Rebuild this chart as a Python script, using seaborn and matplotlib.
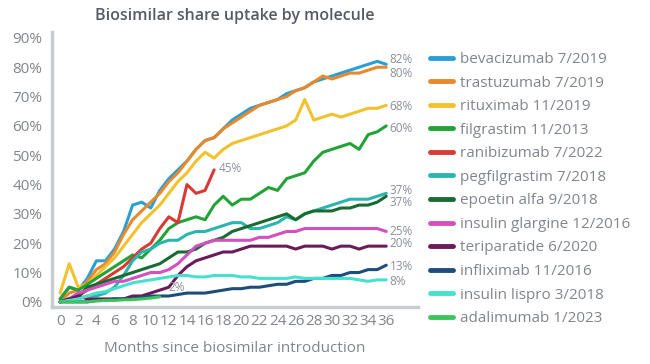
import matplotlib
matplotlib.use('Agg')
import pandas as pd
import matplotlib.pyplot as plt
import seaborn as sns

# Biosimilar share (%) by months since introduction
molecules = ['bevacizumab 7/2019', 'trastuzumab 7/2019', 'rituximab 11/2019',
             'filgrastim 11/2013', 'ranibizumab 7/2022', 'pegfilgrastim 7/2018',
             'epoetin alfa 9/2018', 'insulin glargine 12/2016', 'teriparatide 6/2020',
             'infliximab 11/2016', 'insulin lispro 3/2018', 'adalimumab 1/2023']
colors = ['#2a9fd6', '#e8892b', '#f2c12e', '#22a336', '#d93a35', '#2bb5b0',
          '#1a6b32', '#d44fc0', '#6b1b5a', '#1d4e7a', '#47e0cf', '#3cc45a']

bevacizumab = [1, 5, 4, 8, 14, 14, 18, 24, 33, 34, 32, 38, 42, 45, 48, 52, 55, 56, 59,
               62, 64, 66, 67, 68, 69, 71, 72, 73, 75, 76, 77, 78, 79, 80, 81, 82, 81]
trastuzumab = [0, 3, 4, 7, 11, 13, 17, 23, 28, 31, 34, 37, 41, 44, 48, 52, 55, 56, 59,
               61, 63, 65, 67, 68, 69, 70, 72, 73, 75, 77, 76, 77, 78, 78, 79, 80, 80]
rituximab = [3, 13, 5, 6, 9, 12, 15, 19, 23, 27, 30, 33, 37, 41, 44, 48, 51, 49, 52,
             54, 55, 56, 57, 58, 59, 60, 62, 69, 62, 63, 64, 63, 64, 65, 66, 66, 67]
filgrastim = [1, 5, 4, 6, 8, 10, 12, 14, 16, 15, 18, 21, 25, 27, 28, 29, 28, 33, 36,
              33, 35, 35, 37, 39, 38, 42, 43, 44, 48, 51, 52, 53, 54, 52, 57, 58, 60]
ranibizumab = [0, 1, 2, 4, 6, 8, 10, 12, 15, 18, 20, 25, 29, 27, 40, 37, 38, 45]
pegfilgrastim = [0, 1, 1, 2, 2, 3, 5, 9, 14, 17, 18, 20, 21, 21, 23, 24, 24, 25, 26,
                 27, 27, 25, 25, 26, 27, 29, 28, 30, 31, 32, 33, 34, 35, 35, 35, 36, 37]
epoetin_alfa = [0, 1, 2, 5, 6, 7, 8, 9, 10, 11, 12, 13, 15, 17, 17, 18, 20, 21, 22,
                24, 25, 26, 27, 28, 29, 30, 28, 30, 31, 31, 31, 32, 32, 33, 33, 34, 36]
insulin_glargine = [0, 1, 3, 4, 5, 6, 7, 7, 8, 9, 10, 10, 11, 13, 16, 19, 20, 21, 21,
                    21, 21, 21, 22, 22, 23, 24, 24, 25, 25, 25, 25, 25, 25, 25, 25, 25, 24]
teriparatide = [0, 1, 2, 1, 1, 1, 1, 1, 2, 2, 3, 4, 5, 9, 12, 14, 15, 16, 17,
                17, 18, 19, 19, 19, 19, 19, 18, 19, 19, 19, 18, 19, 19, 18, 19, 19, 19]
infliximab = [0, 0, 0, 0, 0.5, 0.5, 1, 1, 1, 1.5, 2, 2, 2, 2.5, 3, 3, 3, 3.5, 4,
              4.5, 4.5, 5, 5, 5.5, 6, 6, 7, 7, 8, 8, 9, 9, 10, 10, 11, 11, 12.5]
insulin_lispro = [0, 0.5, 1, 2, 3, 3.5, 4.5, 5.5, 6.5, 7, 7.5, 8, 8.5, 9, 9, 8.5, 8.5, 9, 9,
                  9, 8.5, 8.5, 8, 8, 8, 8, 8.5, 8, 8, 8, 8, 8, 8, 7.5, 7, 7.5, 7.5]
adalimumab = [0, 0, 0, 0, 0.3, 0.5, 0.5, 0.7, 0.8, 1, 1.3, 1.7]

end_labels = ['82%', '80%', '68%', '60%', '45%', '37%', '37%', '25%', '20%', '13%', '8%', '2%']
month_ticks = list(range(0, 37, 2))
pct_ticks = list(range(0, 91, 10))

series = [bevacizumab, trastuzumab, rituximab, filgrastim, ranibizumab, pegfilgrastim,
          epoetin_alfa, insulin_glargine, teriparatide, infliximab, insulin_lispro, adalimumab]

rows = []
for name, vals in zip(molecules, series):
    for m, v in enumerate(vals):
        rows.append({'month': m, 'share': v, 'molecule': name})
df = pd.DataFrame(rows)

sns.set_style('white')
plt.rcParams['font.family'] = ['Open Sans', 'DejaVu Sans']

fig = plt.figure(figsize=(6.5, 3.64), dpi=100)
ax = fig.add_axes([0.08, 0.157, 0.563, 0.755])

sns.lineplot(data=df, x='month', y='share', hue='molecule', hue_order=molecules,
             palette=dict(zip(molecules, colors)), linewidth=2.2, ax=ax, legend=True)
for line in ax.get_lines():
    line.set_solid_joinstyle('round')
    line.set_solid_capstyle('round')

# nudges for the end-of-line labels so they don't collide
nudges = [(0.4, 1.5), (0.4, -2), (0.4, -0.5), (0.4, -1), (0.5, 0.5), (0.4, 1),
          (0.4, -2), (0.4, 0), (0.4, 1), (0.4, -0.5), (0.4, -0.5), (1.0, 3.3)]
lbl_color = '#8a9099'
for vals, lbl, (dx, dy) in zip(series, end_labels, nudges):
    ax.text(len(vals) - 1 + dx, vals[-1] + dy, lbl, ha='left', va='center',
            fontsize=8.5, color=lbl_color)

ax.set_xlim(-0.9, 39.5)
ax.set_ylim(-1.7, 92)
ax.set_xticks(month_ticks)
ax.set_yticks(pct_ticks)
ax.set_yticklabels([f'{p}%' for p in pct_ticks])
ax.tick_params(axis='both', length=0, labelsize=11, labelcolor='#80868c')
ax.tick_params(axis='y', pad=7)
ax.tick_params(axis='x', pad=5)
ax.set_xlabel('Months since biosimilar introduction', fontsize=11, color='#80868c', labelpad=9)
ax.set_ylabel('')
ax.set_title('Biosimilar share uptake by molecule', fontsize=11.5, fontweight='semibold',
             color='#555b63', pad=9)
for side in ['top', 'right']:
    ax.spines[side].set_visible(False)
for side in ['left', 'bottom']:
    ax.spines[side].set_color('#c8ccd0')
    ax.spines[side].set_linewidth(2.5)

handles, labels = ax.get_legend_handles_labels()
ax.get_legend().remove()
leg = fig.legend(handles, labels, loc='upper left', bbox_to_anchor=(0.662, 0.857),
                 frameon=False, fontsize=11, handlelength=1.5, handletextpad=0.45,
                 labelspacing=0.56, borderpad=0, borderaxespad=0)
for h in leg.get_lines():
    h.set_linewidth(3.5)
    h.set_solid_capstyle('round')
for t in leg.get_texts():
    t.set_color('#80868c')

fig.savefig('out.png', dpi=100)
